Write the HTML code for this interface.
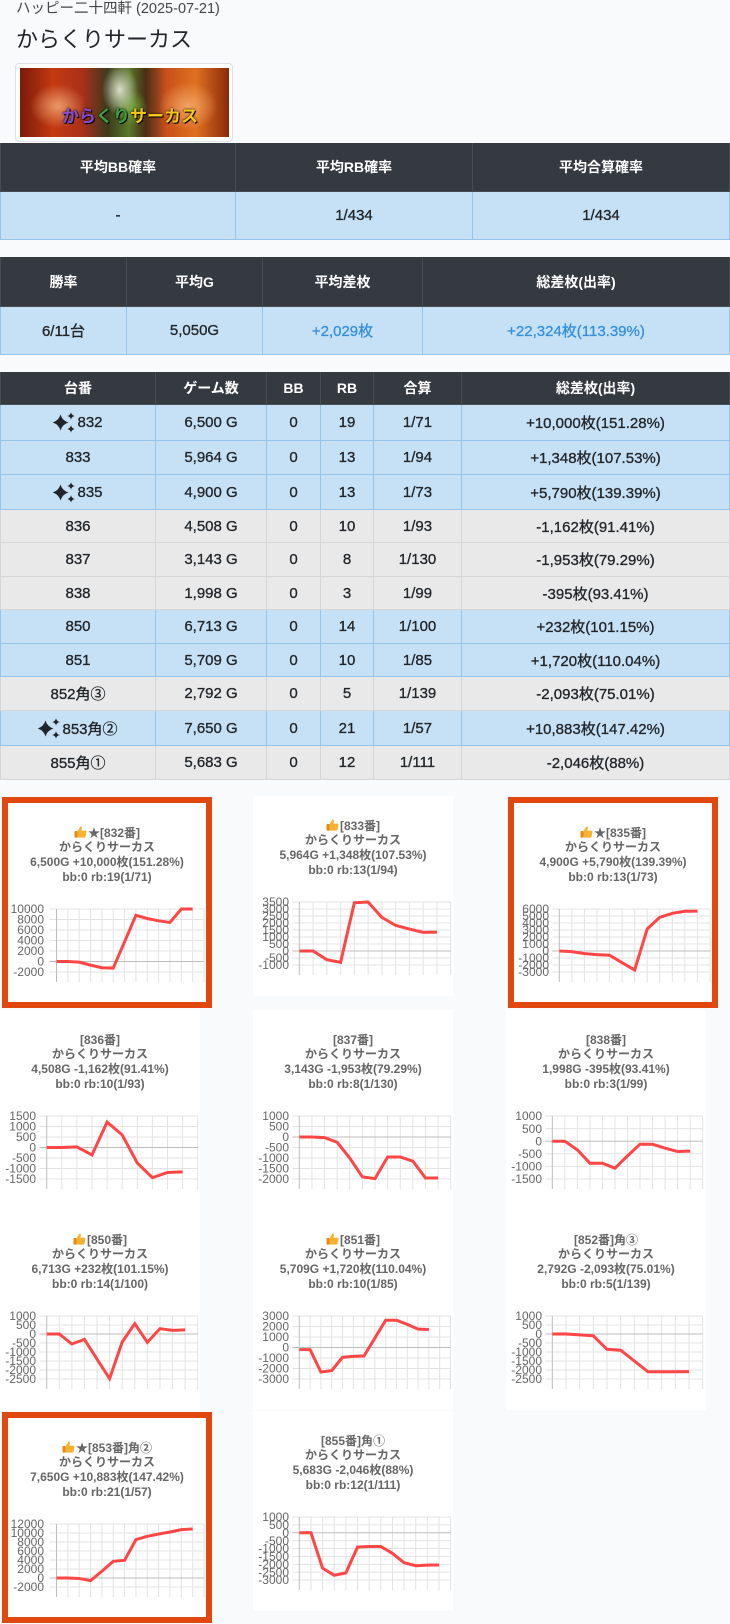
<!DOCTYPE html>
<html><head><meta charset="utf-8">
<style>
*{margin:0;padding:0}
body{width:730px;height:1624px;background:#f8fafc;position:relative;overflow:hidden;font-family:"Liberation Sans","Noto Sans CJK JP",sans-serif;}
.sub{position:absolute;left:16px;top:0;height:18px;line-height:18px;font-size:14.5px;color:#444;white-space:nowrap}
.ttl{position:absolute;left:16px;top:25px;height:30px;line-height:30px;font-size:22px;color:#212529;white-space:nowrap}
.r{position:absolute;left:0;width:730px;display:flex;}
.r>div{box-sizing:border-box;display:flex;align-items:center;justify-content:center;border-right:1px solid;border-bottom:1px solid;white-space:nowrap}
.r>div:first-child{border-left-width:1px;border-left-style:solid}
.h{background:#343a40;color:#fff;font-weight:bold;font-size:14px}
.h>div{border-color:#454d55}
.p{background:#c6e0f5;color:#212529;font-size:15px;-webkit-text-stroke:0.3px #212529}
.p>div{border-color:#95c5ed}
.s{background:#e9e9e9;color:#212529;font-size:15px;-webkit-text-stroke:0.3px #212529}
.s>div{border-color:#d6d6d6}
.bl{color:#3490dc;-webkit-text-stroke:0.3px #3490dc}
.sp{width:22px;height:21px;margin-right:2px;flex:none}
.card{position:absolute;width:200px;height:200px;background:#fff}
.card.b{width:198px;height:199px;border:6px solid #e0480f}
.tt{position:absolute;left:0;right:0;top:22.6px;text-align:center;font-weight:bold;font-size:12px;color:#666}
.tt>div{height:14.8px;line-height:14.8px;white-space:nowrap}
.tu{width:13px;height:12px;vertical-align:-1px;margin-right:1px}
.ch{position:absolute;left:0;top:0}
.g{stroke:#e3e3e3;stroke-width:1;fill:none}
.z{stroke:#bdbdbd;stroke-width:1;fill:none}
.lb{font-family:"Liberation Sans",sans-serif;font-size:12px;fill:#666;text-anchor:end}
.ln{fill:none;stroke:#ff4646;stroke-width:3}
</style></head><body>

<div class="sub">ハッピー二十四軒 (2025-07-21)</div>
<div class="ttl">からくりサーカス</div>

<div style="position:absolute;left:15px;top:63px;width:216px;height:77px;border:1px solid #dee2e6;border-radius:4px;background:#fff"></div>
<div style="position:absolute;left:20px;top:68px;width:209px;height:69px;overflow:hidden;background:
radial-gradient(ellipse 28px 22px at 38px 38px,#e89868,rgba(0,0,0,0)),
radial-gradient(ellipse 18px 26px at 100px 22px,#d9ddc8,rgba(0,0,0,0)),
radial-gradient(ellipse 16px 18px at 112px 40px,#6fa43a,rgba(0,0,0,0)),
radial-gradient(ellipse 30px 24px at 168px 38px,#f2a262,rgba(0,0,0,0)),
linear-gradient(90deg,#7a1a0a 0%,#c43a12 16%,#a8301a 30%,#3c3a1c 42%,#5a7a2a 52%,#4a2e16 60%,#c8501a 70%,#e07020 84%,#8a2a0a 100%);">
<div style="position:absolute;left:42px;top:38px;font-weight:bold;font-size:17px;line-height:22px;white-space:nowrap;text-shadow:0 0 2px #000,1px 1px 0 #000"><span style="color:#8a4ad0">から</span><span style="color:#3aa040">くり</span><span style="color:#f5c518">サーカス</span></div>
</div>

<!-- table 1 -->
<div class="r h" style="top:143px;height:49px"><div style="width:236px">平均BB確率</div><div style="width:237px">平均RB確率</div><div style="width:257px">平均合算確率</div></div>
<div class="r p" style="top:192px;height:48px"><div style="width:236px">-</div><div style="width:237px">1/434</div><div style="width:257px">1/434</div></div>

<!-- table 2 -->
<div class="r h" style="top:257px;height:50px"><div style="width:127px">勝率</div><div style="width:136px">平均G</div><div style="width:160px">平均差枚</div><div style="width:307px">総差枚(出率)</div></div>
<div class="r p" style="top:307px;height:48px"><div style="width:127px">6/11台</div><div style="width:136px">5,050G</div><div style="width:160px" class="bl">+2,029枚</div><div style="width:307px" class="bl">+22,324枚(113.39%)</div></div>

<!-- table 3 -->
<svg width="0" height="0" style="position:absolute"><defs><g id="spk" fill="#212529"><path d="M7.5 2.5 Q9.3 8.7 15.5 10.5 Q9.3 12.3 7.5 18.5 Q5.7 12.3 -0.5 10.5 Q5.7 8.7 7.5 2.5Z"/><path d="M18 0.3 Q18.6 3.4 21.7 4 Q18.6 4.6 18 7.7 Q17.4 4.6 14.3 4 Q17.4 3.4 18 0.3Z"/><path d="M18 13.3 Q18.6 16.4 21.7 17 Q18.6 17.6 18 20.7 Q17.4 17.6 14.3 17 Q17.4 16.4 18 13.3Z"/></g><g id="thumb"><rect x="0.5" y="5" width="3" height="6.6" rx="0.8" fill="#e38b1a"/><path d="M3.5 5.2 L6 1.2 Q6.8 0 7.6 0.8 Q8.2 1.6 7.6 3.4 L7.3 4.6 L11.3 4.6 Q12.6 4.7 12.4 6 L11.6 10.6 Q11.3 11.6 10.2 11.6 L3.5 11.6 Z" fill="#f6b130"/></g></defs></svg>

<div class="r h" style="top:372px;height:33px"><div style="width:156px">台番</div><div style="width:111px">ゲーム数</div><div style="width:54px">BB</div><div style="width:53px">RB</div><div style="width:88px">合算</div><div style="width:268px">総差枚(出率)</div></div>
<div class="r p" style="top:405px;height:36px"><div style="width:156px"><svg class="sp" viewBox="0 0 22 21"><use href="#spk"/></svg>832</div><div style="width:111px">6,500 G</div><div style="width:54px">0</div><div style="width:53px">19</div><div style="width:88px">1/71</div><div style="width:268px">+10,000枚(151.28%)</div></div>
<div class="r p" style="top:441px;height:34px"><div style="width:156px">833</div><div style="width:111px">5,964 G</div><div style="width:54px">0</div><div style="width:53px">13</div><div style="width:88px">1/94</div><div style="width:268px">+1,348枚(107.53%)</div></div>
<div class="r p" style="top:475px;height:35px"><div style="width:156px"><svg class="sp" viewBox="0 0 22 21"><use href="#spk"/></svg>835</div><div style="width:111px">4,900 G</div><div style="width:54px">0</div><div style="width:53px">13</div><div style="width:88px">1/73</div><div style="width:268px">+5,790枚(139.39%)</div></div>
<div class="r s" style="top:510px;height:33px"><div style="width:156px">836</div><div style="width:111px">4,508 G</div><div style="width:54px">0</div><div style="width:53px">10</div><div style="width:88px">1/93</div><div style="width:268px">-1,162枚(91.41%)</div></div>
<div class="r s" style="top:543px;height:34px"><div style="width:156px">837</div><div style="width:111px">3,143 G</div><div style="width:54px">0</div><div style="width:53px">8</div><div style="width:88px">1/130</div><div style="width:268px">-1,953枚(79.29%)</div></div>
<div class="r s" style="top:577px;height:33px"><div style="width:156px">838</div><div style="width:111px">1,998 G</div><div style="width:54px">0</div><div style="width:53px">3</div><div style="width:88px">1/99</div><div style="width:268px">-395枚(93.41%)</div></div>
<div class="r p" style="top:610px;height:34px"><div style="width:156px">850</div><div style="width:111px">6,713 G</div><div style="width:54px">0</div><div style="width:53px">14</div><div style="width:88px">1/100</div><div style="width:268px">+232枚(101.15%)</div></div>
<div class="r p" style="top:644px;height:33px"><div style="width:156px">851</div><div style="width:111px">5,709 G</div><div style="width:54px">0</div><div style="width:53px">10</div><div style="width:88px">1/85</div><div style="width:268px">+1,720枚(110.04%)</div></div>
<div class="r s" style="top:677px;height:34px"><div style="width:156px">852角③</div><div style="width:111px">2,792 G</div><div style="width:54px">0</div><div style="width:53px">5</div><div style="width:88px">1/139</div><div style="width:268px">-2,093枚(75.01%)</div></div>
<div class="r p" style="top:711px;height:35px"><div style="width:156px"><svg class="sp" viewBox="0 0 22 21"><use href="#spk"/></svg>853角②</div><div style="width:111px">7,650 G</div><div style="width:54px">0</div><div style="width:53px">21</div><div style="width:88px">1/57</div><div style="width:268px">+10,883枚(147.42%)</div></div>
<div class="r s" style="top:746px;height:34px"><div style="width:156px">855角①</div><div style="width:111px">5,683 G</div><div style="width:54px">0</div><div style="width:53px">12</div><div style="width:88px">1/111</div><div style="width:268px">-2,046枚(88%)</div></div>

<!-- 832 -->
<div class="card b" style="left:2px;top:797px">
<svg class="ch" width="198" height="199">
<path class="g" d="M41.5 106H196M41.5 116.5H196M41.5 127H196M41.5 137.5H196M41.5 148H196M41.5 169H196M59.85 106V179M71.19 106V179M82.54 106V179M93.88 106V179M105.23 106V179M116.58 106V179M127.92 106V179M139.27 106V179M150.62 106V179M161.96 106V179M173.31 106V179M184.65 106V179M196 106V179"/>
<path class="z" d="M41.5 158.5H196M48.5 106V179"/>
<text class="lb" x="36" y="110.2">10000</text><text class="lb" x="36" y="120.7">8000</text><text class="lb" x="36" y="131.2">6000</text><text class="lb" x="36" y="141.7">4000</text><text class="lb" x="36" y="152.2">2000</text><text class="lb" x="36" y="162.7">0</text><text class="lb" x="36" y="173.2">-2000</text>
<polyline class="ln" points="48.5,158.5 59.85,158.5 71.19,159.16 82.54,162.12 93.88,164.75 105.23,165.06 116.58,138.81 127.92,112.25 139.27,115.5 150.62,117.81 161.96,119.44 173.31,106 184.65,106"/>
</svg>
<div class="tt"><div><svg class="tu" viewBox="0 0 13 12"><use href="#thumb"/></svg>★[832番]</div><div>からくりサーカス</div><div>6,500G +10,000枚(151.28%)</div><div>bb:0 rb:19(1/71)</div></div>
</div>

<!-- 833 -->
<div class="card" style="left:253px;top:796px">
<svg class="ch" width="200" height="200">
<path class="g" d="M39.3 106H197.7M39.3 113H197.7M39.3 120H197.7M39.3 127H197.7M39.3 134H197.7M39.3 141H197.7M39.3 148H197.7M39.3 162H197.7M39.3 169H197.7M60.06 106V179M73.83 106V179M87.59 106V179M101.36 106V179M115.12 106V179M128.88 106V179M142.65 106V179M156.41 106V179M170.18 106V179M183.94 106V179M197.7 106V179"/>
<path class="z" d="M39.3 155H197.7M46.3 106V179"/>
<text class="lb" x="36" y="110.2">3500</text><text class="lb" x="36" y="117.2">3000</text><text class="lb" x="36" y="124.2">2500</text><text class="lb" x="36" y="131.2">2000</text><text class="lb" x="36" y="138.2">1500</text><text class="lb" x="36" y="145.2">1000</text><text class="lb" x="36" y="152.2">500</text><text class="lb" x="36" y="159.2">0</text><text class="lb" x="36" y="166.2">-500</text><text class="lb" x="36" y="173.2">-1000</text>
<polyline class="ln" points="46.3,155 60.06,155 73.83,163.68 87.59,166.34 101.36,106.7 115.12,106 128.88,121.4 142.65,129.38 156.41,133.02 170.18,136.38 183.94,136.13"/>
</svg>
<div class="tt"><div><svg class="tu" viewBox="0 0 13 12"><use href="#thumb"/></svg>[833番]</div><div>からくりサーカス</div><div>5,964G +1,348枚(107.53%)</div><div>bb:0 rb:13(1/94)</div></div>
</div>

<!-- 835 -->
<div class="card b" style="left:508px;top:797px">
<svg class="ch" width="198" height="199">
<path class="g" d="M38.3 106H196M38.3 113H196M38.3 120H196M38.3 127H196M38.3 134H196M38.3 141H196M38.3 155H196M38.3 162H196M38.3 169H196M57.86 106V179M70.42 106V179M82.97 106V179M95.53 106V179M108.09 106V179M120.65 106V179M133.21 106V179M145.76 106V179M158.32 106V179M170.88 106V179M183.44 106V179M196 106V179"/>
<path class="z" d="M38.3 148H196M45.3 106V179"/>
<text class="lb" x="35" y="110.2">6000</text><text class="lb" x="35" y="117.2">5000</text><text class="lb" x="35" y="124.2">4000</text><text class="lb" x="35" y="131.2">3000</text><text class="lb" x="35" y="138.2">2000</text><text class="lb" x="35" y="145.2">1000</text><text class="lb" x="35" y="152.2">0</text><text class="lb" x="35" y="159.2">-1000</text><text class="lb" x="35" y="166.2">-2000</text><text class="lb" x="35" y="173.2">-3000</text>
<polyline class="ln" points="45.3,148 57.86,148.67 70.42,150.66 82.97,151.64 95.53,152.27 108.09,159.69 120.65,166.97 133.21,125.97 145.76,114.3 158.32,110.31 170.88,108.28 183.44,108.07"/>
</svg>
<div class="tt"><div><svg class="tu" viewBox="0 0 13 12"><use href="#thumb"/></svg>★[835番]</div><div>からくりサーカス</div><div>4,900G +5,790枚(139.39%)</div><div>bb:0 rb:13(1/73)</div></div>
</div>

<!-- 836 -->
<div class="card" style="left:0;top:1010px">
<svg class="ch" width="200" height="200">
<path class="g" d="M39.7 106H197.7M39.7 116.5H197.7M39.7 127H197.7M39.7 148H197.7M39.7 158.5H197.7M39.7 169H197.7M61.8 106V179M76.9 106V179M92 106V179M107.1 106V179M122.2 106V179M137.3 106V179M152.4 106V179M167.5 106V179M182.6 106V179M197.7 106V179"/>
<path class="z" d="M39.7 137.5H197.7M46.7 106V179"/>
<text class="lb" x="36" y="110.2">1500</text><text class="lb" x="36" y="120.7">1000</text><text class="lb" x="36" y="131.2">500</text><text class="lb" x="36" y="141.7">0</text><text class="lb" x="36" y="152.2">-500</text><text class="lb" x="36" y="162.7">-1000</text><text class="lb" x="36" y="173.2">-1500</text>
<polyline class="ln" points="46.7,137.5 61.8,137.5 76.9,136.87 92,144.96 107.1,112.09 122.2,124.9 137.3,153.04 152.4,167.64 167.5,162.49 182.6,161.9"/>
</svg>
<div class="tt"><div>[836番]</div><div>からくりサーカス</div><div>4,508G -1,162枚(91.41%)</div><div>bb:0 rb:10(1/93)</div></div>
</div>

<!-- 837 -->
<div class="card" style="left:253px;top:1010px">
<svg class="ch" width="200" height="200">
<path class="g" d="M39.3 106H197.7M39.3 116.5H197.7M39.3 137.5H197.7M39.3 148H197.7M39.3 158.5H197.7M39.3 169H197.7M58.92 106V179M71.53 106V179M84.15 106V179M96.77 106V179M109.38 106V179M122 106V179M134.62 106V179M147.24 106V179M159.85 106V179M172.47 106V179M185.09 106V179M197.7 106V179"/>
<path class="z" d="M39.3 127H197.7M46.3 106V179"/>
<text class="lb" x="36" y="110.2">1000</text><text class="lb" x="36" y="120.7">500</text><text class="lb" x="36" y="131.2">0</text><text class="lb" x="36" y="141.7">-500</text><text class="lb" x="36" y="152.2">-1000</text><text class="lb" x="36" y="162.7">-1500</text><text class="lb" x="36" y="173.2">-2000</text>
<polyline class="ln" points="46.3,127 58.92,127 71.53,127.63 84.15,132.25 96.77,148 109.38,166.9 122,168.58 134.62,146.95 147.24,146.95 159.85,151.15 172.47,167.95 185.09,168.01"/>
</svg>
<div class="tt"><div>[837番]</div><div>からくりサーカス</div><div>3,143G -1,953枚(79.29%)</div><div>bb:0 rb:8(1/130)</div></div>
</div>

<!-- 838 -->
<div class="card" style="left:506px;top:1010px">
<svg class="ch" width="200" height="200">
<path class="g" d="M39.3 106H196.7M39.3 118.6H196.7M39.3 143.8H196.7M39.3 156.4H196.7M39.3 169H196.7M58.83 106V179M71.37 106V179M83.9 106V179M96.43 106V179M108.97 106V179M121.5 106V179M134.03 106V179M146.57 106V179M159.1 106V179M171.63 106V179M184.17 106V179M196.7 106V179"/>
<path class="z" d="M39.3 131.2H196.7M46.3 106V179"/>
<text class="lb" x="36" y="110.2">1000</text><text class="lb" x="36" y="122.8">500</text><text class="lb" x="36" y="135.4">0</text><text class="lb" x="36" y="148">-500</text><text class="lb" x="36" y="160.6">-1000</text><text class="lb" x="36" y="173.2">-1500</text>
<polyline class="ln" points="46.3,131.2 58.83,131.2 71.37,139.87 83.9,153.2 96.43,153.2 108.97,158.19 121.5,145.87 134.03,134.2 146.57,134.2 159.1,138.21 171.63,141.53 184.17,141.15"/>
</svg>
<div class="tt"><div>[838番]</div><div>からくりサーカス</div><div>1,998G -395枚(93.41%)</div><div>bb:0 rb:3(1/99)</div></div>
</div>

<!-- 850 -->
<div class="card" style="left:0;top:1210px">
<svg class="ch" width="200" height="200">
<path class="g" d="M39.7 106H197.7M39.7 115H197.7M39.7 133H197.7M39.7 142H197.7M39.7 151H197.7M39.7 160H197.7M39.7 169H197.7M59.28 106V179M71.87 106V179M84.45 106V179M97.03 106V179M109.62 106V179M122.2 106V179M134.78 106V179M147.37 106V179M159.95 106V179M172.53 106V179M185.12 106V179M197.7 106V179"/>
<path class="z" d="M39.7 124H197.7M46.7 106V179"/>
<text class="lb" x="36" y="110.2">1000</text><text class="lb" x="36" y="119.2">500</text><text class="lb" x="36" y="128.2">0</text><text class="lb" x="36" y="137.2">-500</text><text class="lb" x="36" y="146.2">-1000</text><text class="lb" x="36" y="155.2">-1500</text><text class="lb" x="36" y="164.2">-2000</text><text class="lb" x="36" y="173.2">-2500</text>
<polyline class="ln" points="46.7,124 59.28,124 71.87,133.99 84.45,129.4 97.03,149.2 109.62,168.64 122.2,131.99 134.78,113.67 147.37,132.33 159.95,118.67 172.53,120.33 185.12,119.82"/>
</svg>
<div class="tt"><div><svg class="tu" viewBox="0 0 13 12"><use href="#thumb"/></svg>[850番]</div><div>からくりサーカス</div><div>6,713G +232枚(101.15%)</div><div>bb:0 rb:14(1/100)</div></div>
</div>

<!-- 851 -->
<div class="card" style="left:253px;top:1210px">
<svg class="ch" width="200" height="200">
<path class="g" d="M39.3 106H197.5M39.3 116.5H197.5M39.3 127H197.5M39.3 148H197.5M39.3 158.5H197.5M39.3 169H197.5M57.1 106V179M67.9 106V179M78.7 106V179M89.5 106V179M100.3 106V179M111.1 106V179M121.9 106V179M132.7 106V179M143.5 106V179M154.3 106V179M165.1 106V179M175.9 106V179M186.7 106V179M197.5 106V179"/>
<path class="z" d="M39.3 137.5H197.5M46.3 106V179"/>
<text class="lb" x="36" y="110.2">3000</text><text class="lb" x="36" y="120.7">2000</text><text class="lb" x="36" y="131.2">1000</text><text class="lb" x="36" y="141.7">0</text><text class="lb" x="36" y="152.2">-1000</text><text class="lb" x="36" y="162.7">-2000</text><text class="lb" x="36" y="173.2">-3000</text>
<polyline class="ln" points="46.3,139.6 57.1,139.6 67.9,161.97 78.7,160.6 89.5,147.37 100.3,146.32 111.1,145.9 121.9,128.05 132.7,110.2 143.5,110.2 154.3,114.4 165.1,119.13 175.9,119.44"/>
</svg>
<div class="tt"><div><svg class="tu" viewBox="0 0 13 12"><use href="#thumb"/></svg>[851番]</div><div>からくりサーカス</div><div>5,709G +1,720枚(110.04%)</div><div>bb:0 rb:10(1/85)</div></div>
</div>

<!-- 852 -->
<div class="card" style="left:506px;top:1210px">
<svg class="ch" width="200" height="200">
<path class="g" d="M39.3 106H196.7M39.3 115H196.7M39.3 133H196.7M39.3 142H196.7M39.3 151H196.7M39.3 160H196.7M39.3 169H196.7M59.97 106V179M73.65 106V179M87.32 106V179M100.99 106V179M114.67 106V179M128.34 106V179M142.01 106V179M155.68 106V179M169.36 106V179M183.03 106V179M196.7 106V179"/>
<path class="z" d="M39.3 124H196.7M46.3 106V179"/>
<text class="lb" x="36" y="110.2">1000</text><text class="lb" x="36" y="119.2">500</text><text class="lb" x="36" y="128.2">0</text><text class="lb" x="36" y="137.2">-500</text><text class="lb" x="36" y="146.2">-1000</text><text class="lb" x="36" y="155.2">-1500</text><text class="lb" x="36" y="164.2">-2000</text><text class="lb" x="36" y="173.2">-2500</text>
<polyline class="ln" points="46.3,124 59.97,124 73.65,124.9 87.32,125.8 100.99,139.3 114.67,140.2 128.34,151 142.01,161.8 155.68,161.8 169.36,161.8 183.03,161.67"/>
</svg>
<div class="tt"><div>[852番]角③</div><div>からくりサーカス</div><div>2,792G -2,093枚(75.01%)</div><div>bb:0 rb:5(1/139)</div></div>
</div>

<!-- 853 -->
<div class="card b" style="left:2px;top:1412px">
<svg class="ch" width="198" height="199">
<path class="g" d="M41.5 106H196M41.5 115H196M41.5 124H196M41.5 133H196M41.5 142H196M41.5 151H196M41.5 169H196M59.85 106V179M71.19 106V179M82.54 106V179M93.88 106V179M105.23 106V179M116.58 106V179M127.92 106V179M139.27 106V179M150.62 106V179M161.96 106V179M173.31 106V179M184.65 106V179M196 106V179"/>
<path class="z" d="M41.5 160H196M48.5 106V179"/>
<text class="lb" x="36" y="110.2">12000</text><text class="lb" x="36" y="119.2">10000</text><text class="lb" x="36" y="128.2">8000</text><text class="lb" x="36" y="137.2">6000</text><text class="lb" x="36" y="146.2">4000</text><text class="lb" x="36" y="155.2">2000</text><text class="lb" x="36" y="164.2">0</text><text class="lb" x="36" y="173.2">-2000</text>
<polyline class="ln" points="48.5,160 59.85,160 71.19,160.45 82.54,162.7 93.88,153.25 105.23,143.31 116.58,142.32 127.92,121.62 139.27,118.33 150.62,115.99 161.96,114.01 173.31,111.63 184.65,111.03"/>
</svg>
<div class="tt"><div><svg class="tu" viewBox="0 0 13 12"><use href="#thumb"/></svg>★[853番]角②</div><div>からくりサーカス</div><div>7,650G +10,883枚(147.42%)</div><div>bb:0 rb:21(1/57)</div></div>
</div>

<!-- 855 -->
<div class="card" style="left:253px;top:1411px">
<svg class="ch" width="200" height="200">
<path class="g" d="M39.3 106H197.7M39.3 113.88H197.7M39.3 129.63H197.7M39.3 137.5H197.7M39.3 145.38H197.7M39.3 153.25H197.7M39.3 161.13H197.7M39.3 169H197.7M57.95 106V179M69.59 106V179M81.24 106V179M92.88 106V179M104.53 106V179M116.18 106V179M127.82 106V179M139.47 106V179M151.11 106V179M162.76 106V179M174.41 106V179M186.05 106V179M197.7 106V179"/>
<path class="z" d="M39.3 121.75H197.7M46.3 106V179"/>
<text class="lb" x="36" y="110.2">1000</text><text class="lb" x="36" y="118.08">500</text><text class="lb" x="36" y="125.95">0</text><text class="lb" x="36" y="133.83">-500</text><text class="lb" x="36" y="141.7">-1000</text><text class="lb" x="36" y="149.58">-1500</text><text class="lb" x="36" y="157.45">-2000</text><text class="lb" x="36" y="165.33">-2500</text><text class="lb" x="36" y="173.2">-3000</text>
<polyline class="ln" points="46.3,121.75 57.95,121.75 69.59,157.19 81.24,164.28 92.88,161.91 104.53,136.08 116.18,135.45 127.82,135.45 139.47,142.41 151.11,151.75 162.76,154.75 174.41,154.08 186.05,153.97"/>
</svg>
<div class="tt"><div>[855番]角①</div><div>からくりサーカス</div><div>5,683G -2,046枚(88%)</div><div>bb:0 rb:12(1/111)</div></div>
</div>

</body></html>
